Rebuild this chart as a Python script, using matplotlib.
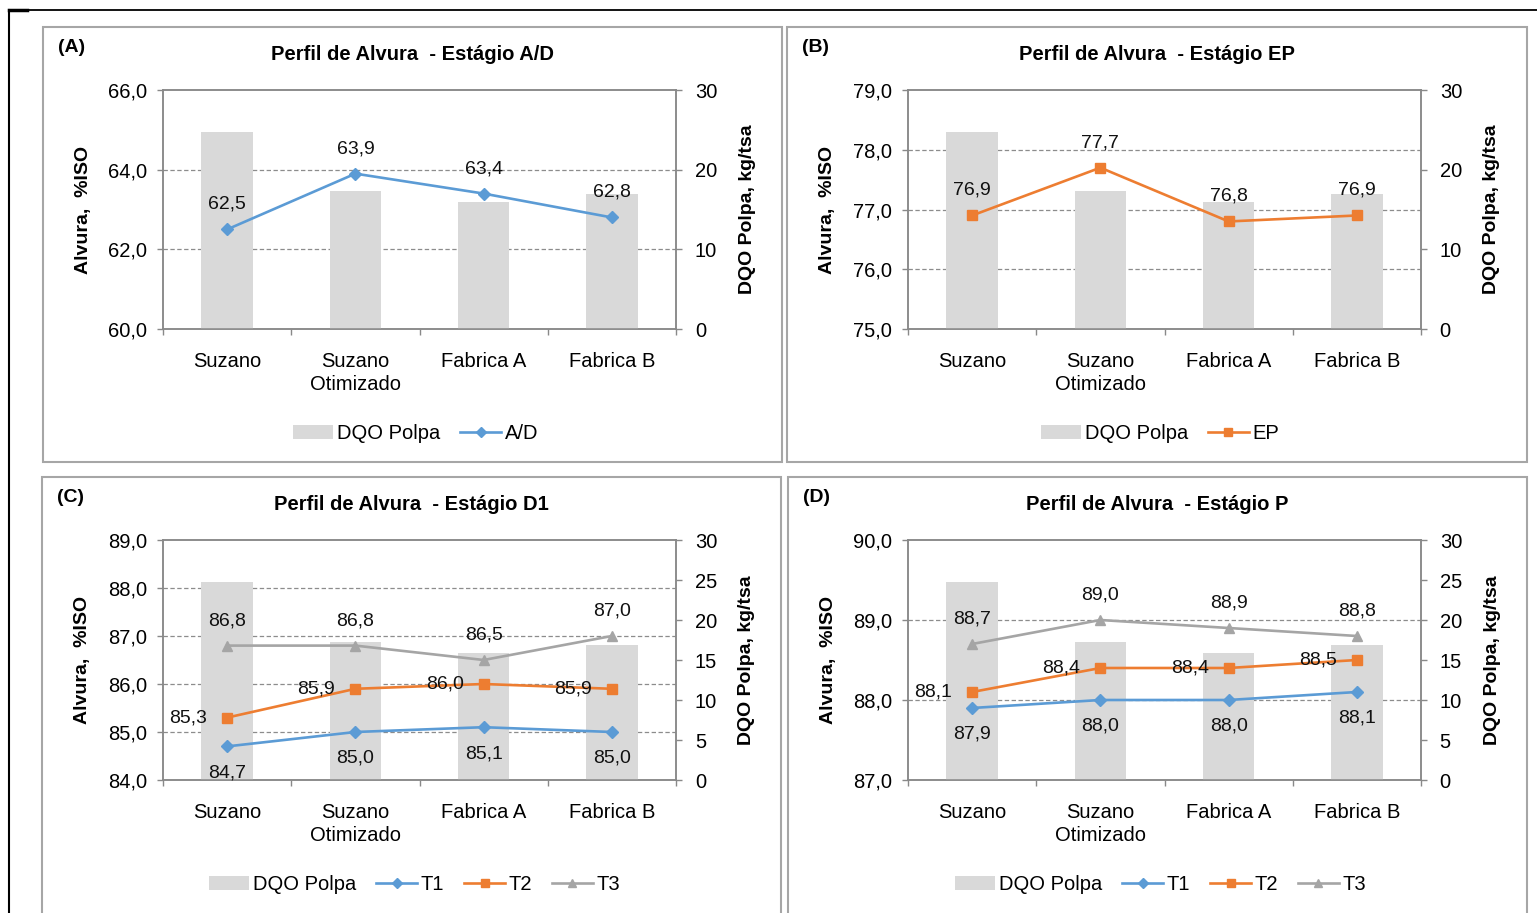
import matplotlib
matplotlib.use('Agg')
import matplotlib.pyplot as plt
from matplotlib.ticker import FuncFormatter, MultipleLocator, FixedLocator
from matplotlib.lines import Line2D
from matplotlib.patches import Rectangle

plt.rcParams['font.family'] = ['Liberation Sans', 'DejaVu Sans']

W, H = 1537, 913

# ---------------- data ----------------
categories = ['Suzano', 'Suzano\nOtimizado', 'Fabrica A', 'Fabrica B']
dqo_polpa = [24.7, 17.3, 15.9, 16.9]

ad_values = [62.5, 63.9, 63.4, 62.8]
ep_values = [76.9, 77.7, 76.8, 76.9]
d1_t1 = [84.7, 85.0, 85.1, 85.0]
d1_t2 = [85.3, 85.9, 86.0, 85.9]
d1_t3 = [86.8, 86.8, 86.5, 87.0]
p_t1 = [87.9, 88.0, 88.0, 88.1]
p_t2 = [88.1, 88.4, 88.4, 88.5]
p_t3 = [88.7, 89.0, 88.9, 88.8]

titles = ['Perfil de Alvura  - Estágio A/D', 'Perfil de Alvura  - Estágio EP',
          'Perfil de Alvura  - Estágio D1', 'Perfil de Alvura  - Estágio P']
panel_labels = ['(A)', '(B)', '(C)', '(D)']
left_limits = [(60, 66, 2), (75, 79, 1), (84, 89, 1), (87, 90, 1)]
right_steps = [10, 10, 5, 5]

# ---------------- styles ----------------
BLUE = '#5B9BD5'
ORANGE = '#ED7D31'
GRAY = '#A5A5A5'
BAR = '#D9D9D9'
SPINE = '#898989'
FRAME = '#A6A6A6'
FS = 14.5

series_specs = [
    [('A/D', ad_values, BLUE, 'D', 6, 'above')],
    [('EP', ep_values, ORANGE, 's', 7, 'above')],
    [('T1', d1_t1, BLUE, 'D', 6, 'below'),
     ('T2', d1_t2, ORANGE, 's', 7, 'left'),
     ('T3', d1_t3, GRAY, '^', 7, 'above')],
    [('T1', p_t1, BLUE, 'D', 6, 'below'),
     ('T2', p_t2, ORANGE, 's', 7, 'left'),
     ('T3', p_t3, GRAY, '^', 7, 'above')],
]

# pixel layout: frame (l, t, r, b), plot area (l, t, r, b), legend y
frames = [(43, 27, 782, 462), (787, 27, 1527, 462),
          (42, 477, 781, 940), (788, 477, 1527, 940)]
plots = [(163, 90, 676, 329), (908, 90, 1421, 329),
         (163, 540, 676, 780), (908, 540, 1421, 780)]
legend_y = [433, 433, 884, 884]

offsets = {'above': (0, 18), 'below': (0, -19), 'left': (-28, 0)}


def fx(x):
    return x / W


def fy(y):
    return 1 - y / H


def comma(v, pos=None):
    return f'{v:.1f}'.replace('.', ',')


fig = plt.figure(figsize=(W / 100, H / 100), dpi=100)

# outer black border lines
fig.add_artist(Line2D([fx(9), 1], [fy(10), fy(10)], color='black', lw=1.3))
fig.add_artist(Line2D([fx(9), fx(27)], [fy(10.5), fy(10.5)], color='black', lw=2.5))
fig.add_artist(Line2D([fx(9), fx(9)], [fy(10), 0], color='black', lw=1.5))

x = list(range(len(categories)))

for i in range(4):
    fl, ft, fr, fb = frames[i]
    fig.add_artist(Rectangle((fx(fl), fy(fb)), fx(fr) - fx(fl), fy(ft) - fy(fb),
                             transform=fig.transFigure, fill=False,
                             edgecolor=FRAME, lw=1.5))
    pl, pt, pr, pb = plots[i]
    rect = [fx(pl), fy(pb), fx(pr) - fx(pl), fy(pt) - fy(pb)]

    ax = fig.add_axes(rect)
    lo, hi, step = left_limits[i]
    ax.set_ylim(lo, hi)
    ax.set_xlim(-0.5, 3.5)
    ax.yaxis.set_major_locator(MultipleLocator(step))
    ax.yaxis.set_major_formatter(FuncFormatter(comma))
    ax.set_axisbelow(True)
    grid_vals = [v for v in range(lo, hi + 1, step) if lo < v < hi]
    for gv in grid_vals:
        ax.axhline(gv, color='#8C8C8C', lw=0.9, ls=(0, (3.5, 2)), zorder=0)
    for s in ax.spines.values():
        s.set_color(SPINE)
        s.set_linewidth(1.1)
    ax.tick_params(axis='y', direction='out', length=4.5, width=1, color=SPINE,
                   labelsize=FS, pad=7)
    ax.set_xticks(x)
    ax.set_xticklabels(categories, fontsize=FS, linespacing=1.25)
    ax.tick_params(axis='x', which='major', length=0, pad=16.5)
    ax.xaxis.set_minor_locator(FixedLocator([-0.5, 0.5, 1.5, 2.5, 3.5]))
    ax.tick_params(axis='x', which='minor', direction='out', length=4.5,
                   width=1, color=SPINE)
    ax.set_ylabel('Alvura,  %ISO', fontsize=14, fontweight='bold')
    ax.yaxis.set_label_coords((fl + 49 - pl) / (pr - pl), 0.5)

    ax2 = ax.twinx()
    ax2.patch.set_visible(False)
    bars = ax2.bar(x, dqo_polpa, width=0.4, color=BAR, label='DQO Polpa', zorder=2)
    ax2.set_ylim(0, 30)
    ax2.yaxis.set_major_locator(MultipleLocator(right_steps[i]))
    for s in ax2.spines.values():
        s.set_color(SPINE)
        s.set_linewidth(1.1)
    ax2.tick_params(axis='y', direction='out', length=4.5, width=1, color=SPINE,
                    labelsize=FS, pad=9)
    ax2.set_ylabel('DQO Polpa, kg/tsa', fontsize=14, fontweight='bold')
    ax2.yaxis.set_label_coords((fl + 696 - pl) / (pr - pl), 0.5)

    ax3 = fig.add_axes(rect, sharex=ax, sharey=ax)
    ax3.set_axis_off()
    ax3.patch.set_visible(False)
    handles = [bars]
    labels = ['DQO Polpa']
    for name, vals, col, mk, ms, pos in series_specs[i]:
        ax3.plot(x, vals, color=col, lw=1.9, marker=mk, ms=ms,
                 markeredgecolor=col, clip_on=False, zorder=3)
        handles.append(Line2D([], [], color=col, lw=1.9, marker=mk, ms=ms - 1))
        labels.append(name)
        dx, dy = offsets[pos]
        for xi, v in zip(x, vals):
            ax3.annotate(comma(v), (xi, v), xytext=(dx, dy),
                         textcoords='offset points', ha='center', va='center',
                         fontsize=14, color='#111111', zorder=4)

    cx = (fl + fr) / 2
    fig.text(fx(cx), fy(ft + 27), titles[i], ha='center', va='center',
             fontsize=14.5, fontweight='bold')
    fig.text(fx(fl + 15), fy(ft + 20.5), panel_labels[i], ha='left', va='center',
             fontsize=14, fontweight='bold')

    fig.legend(handles, labels, loc='center',
               bbox_to_anchor=(fx(cx + 3), fy(legend_y[i] + 0.5)), ncol=len(labels),
               frameon=False, fontsize=FS, handlelength=2.0, handletextpad=0.2,
               columnspacing=1.0)

fig.savefig('out.png', dpi=100)
